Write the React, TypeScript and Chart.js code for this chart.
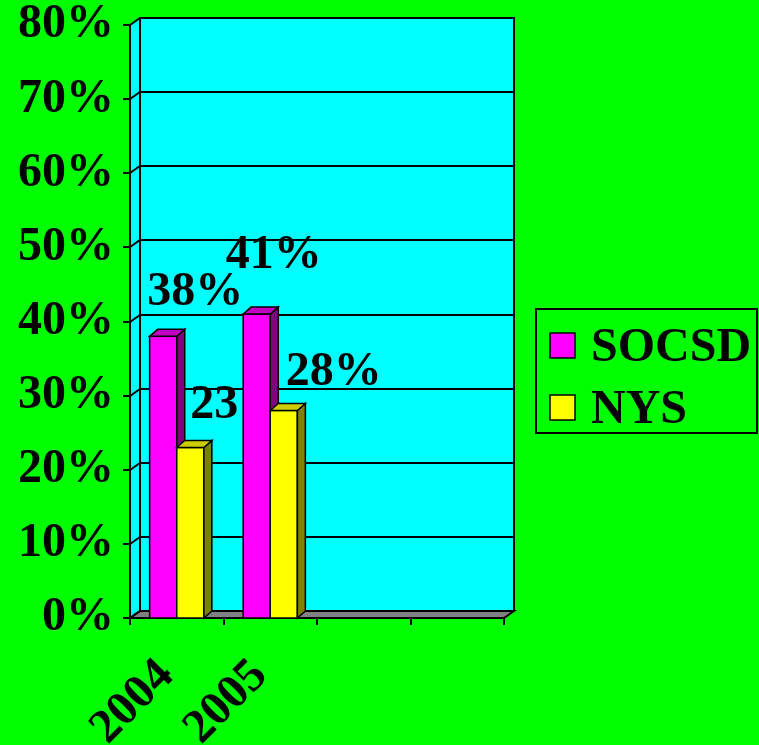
import React, { useEffect, useRef } from "react";
import { Chart, registerables } from "chart.js";

Chart.register(...registerables);

const categories = ["2004", "2005", "", ""];
const seriesNames = ["SOCSD", "NYS"];
const socsdValues = [0.38, 0.41, null, null];
const nysValues = [0.23, 0.28, null, null];
const yTickMax = 0.8;
const yTickStep = 0.1;

// style constants
const FONT = "'Liberation Serif', 'Times New Roman', serif";
const FONT_SIZE = 48;
const FRONT = ["#FF00FF", "#FFFF00"];
const SIDE = ["#800080", "#808000"];
const TOP = ["#C000C0", "#CCCC00"];
const WDX = 10;
const WDY = 7;
const BDX = 8;
const BDY = 7;
// label offsets (dx, dy) relative to bar center/top, per dataset per point
const labelOffsets = [
  [[32, -31], [17, -46]],
  [[48, -30], [50, -25]],
];

const threeD = {
  id: "threeD",
  beforeDatasetsDraw(chart: any) {
    const { ctx, chartArea } = chart;
    const { left, right, top, bottom } = chartArea;
    const y = chart.scales.y;
    ctx.save();
    ctx.lineWidth = 2;
    ctx.strokeStyle = "#000";
    ctx.lineJoin = "miter";
    // back wall
    ctx.fillStyle = "#00FFFF";
    ctx.fillRect(left + WDX, top - WDY, right - left, bottom - top);
    // left wall
    ctx.beginPath();
    ctx.moveTo(left, bottom);
    ctx.lineTo(left, top);
    ctx.lineTo(left + WDX, top - WDY);
    ctx.lineTo(left + WDX, bottom - WDY);
    ctx.closePath();
    ctx.fill();
    // floor
    ctx.fillStyle = "#808080";
    ctx.beginPath();
    ctx.moveTo(left, bottom);
    ctx.lineTo(right, bottom);
    ctx.lineTo(right + WDX, bottom - WDY);
    ctx.lineTo(left + WDX, bottom - WDY);
    ctx.closePath();
    ctx.fill();
    ctx.stroke();
    // gridlines
    for (let v = 0; v <= yTickMax + 1e-9; v += yTickStep) {
      const py = Math.round(y.getPixelForValue(v));
      ctx.beginPath();
      ctx.moveTo(left - 7, py);
      ctx.lineTo(left, py);
      ctx.lineTo(left + WDX, py - WDY);
      ctx.lineTo(right + WDX, py - WDY);
      ctx.stroke();
    }
    // wall outlines
    ctx.beginPath();
    ctx.moveTo(left + WDX, bottom - WDY);
    ctx.lineTo(left + WDX, top - WDY);
    ctx.lineTo(right + WDX, top - WDY);
    ctx.lineTo(right + WDX, bottom - WDY);
    ctx.stroke();
    ctx.beginPath();
    ctx.moveTo(left, top);
    ctx.lineTo(left, bottom);
    ctx.lineTo(right, bottom);
    ctx.stroke();
    // x ticks
    const n = categories.length;
    const w = (right - left) / n;
    for (let i = 0; i <= n; i++) {
      const px = Math.round(left + i * w);
      ctx.beginPath();
      ctx.moveTo(px, bottom);
      ctx.lineTo(px, bottom + 7);
      ctx.stroke();
    }
    ctx.restore();
  },
  afterDatasetsDraw(chart: any) {
    const { ctx } = chart;
    ctx.save();
    ctx.lineWidth = 1.5;
    ctx.strokeStyle = "#000";
    ctx.lineJoin = "miter";
    const nCat = categories.length;
    for (let i = 0; i < nCat; i++) {
      for (let d = 0; d < chart.data.datasets.length; d++) {
        const val = chart.data.datasets[d].data[i];
        if (val == null) continue;
        const bar = chart.getDatasetMeta(d).data[i];
        const x1 = bar.x - bar.width / 2;
        const x2 = bar.x + bar.width / 2;
        const yt = bar.y;
        const yb = bar.base;
        // front
        ctx.fillStyle = FRONT[d];
        ctx.fillRect(x1, yt, x2 - x1, yb - yt);
        ctx.strokeRect(x1, yt, x2 - x1, yb - yt);
        // side
        ctx.fillStyle = SIDE[d];
        ctx.beginPath();
        ctx.moveTo(x2, yt);
        ctx.lineTo(x2 + BDX, yt - BDY);
        ctx.lineTo(x2 + BDX, yb - BDY);
        ctx.lineTo(x2, yb);
        ctx.closePath();
        ctx.fill();
        ctx.stroke();
        // top
        ctx.fillStyle = TOP[d];
        ctx.beginPath();
        ctx.moveTo(x1, yt);
        ctx.lineTo(x1 + BDX, yt - BDY);
        ctx.lineTo(x2 + BDX, yt - BDY);
        ctx.lineTo(x2, yt);
        ctx.closePath();
        ctx.fill();
        ctx.stroke();
      }
      // labels for this category
      ctx.fillStyle = "#000";
      ctx.font = `bold ${FONT_SIZE}px ${FONT}`;
      ctx.textAlign = "center";
      ctx.textBaseline = "alphabetic";
      for (let d = 0; d < chart.data.datasets.length; d++) {
        const val = chart.data.datasets[d].data[i];
        if (val == null) continue;
        const bar = chart.getDatasetMeta(d).data[i];
        const off = (labelOffsets[d] && labelOffsets[d][i]) || [30, -30];
        ctx.fillText(Math.round(val * 100) + "%", bar.x + off[0], bar.y + off[1]);
      }
    }
    ctx.restore();
  },
  afterDraw(chart: any) {
    const { ctx } = chart;
    ctx.save();
    // legend box
    const lx = 536, ly = 309, lw = 221, lh = 124;
    ctx.lineWidth = 2;
    ctx.strokeStyle = "#000";
    ctx.strokeRect(lx, ly, lw, lh);
    ctx.font = `bold ${FONT_SIZE}px ${FONT}`;
    ctx.textAlign = "left";
    ctx.textBaseline = "alphabetic";
    const rows = [345, 407];
    chart.data.datasets.forEach((ds: any, d: number) => {
      const cy = rows[d];
      ctx.fillStyle = FRONT[d];
      ctx.fillRect(550, cy - 12, 25, 25);
      ctx.lineWidth = 1.5;
      ctx.strokeRect(550, cy - 12, 25, 25);
      ctx.fillStyle = "#000";
      ctx.fillText(ds.label, 591, cy + 16);
    });
    ctx.restore();
  },
};

export default function App() {
  const ref = useRef<HTMLCanvasElement>(null);
  useEffect(() => {
    document.body.style.margin = "0";
    const chart = new Chart(ref.current!, {
      type: "bar",
      data: {
        labels: categories,
        datasets: [
          { label: seriesNames[0], data: socsdValues, backgroundColor: FRONT[0], borderColor: "#000", borderWidth: 1 },
          { label: seriesNames[1], data: nysValues, backgroundColor: FRONT[1], borderColor: "#000", borderWidth: 1 },
        ],
      },
      options: {
        animation: false,
        responsive: false,
        maintainAspectRatio: false,
        layout: { padding: { top: 25, right: 255, left: 0, bottom: 0 } },
        datasets: { bar: { categoryPercentage: 0.58, barPercentage: 1.0 } },
        plugins: { legend: { display: false }, tooltip: { enabled: false } },
        scales: {
          x: {
            grid: { display: false, drawTicks: false },
            border: { display: false },
            ticks: {
              color: "#000",
              font: { family: FONT, size: FONT_SIZE, weight: "bold" },
              minRotation: 45,
              maxRotation: 45,
              padding: 30,
              labelOffset: -10,
              autoSkip: false,
            },
            afterFit: (s: any) => { s.height = 127; s.paddingLeft = 0; s.paddingRight = 0; },
          },
          y: {
            min: 0,
            max: yTickMax,
            grid: { display: false, drawTicks: false },
            border: { display: false },
            ticks: {
              stepSize: yTickStep,
              color: "#000",
              padding: 16,
              font: { family: FONT, size: FONT_SIZE, weight: "bold" },
              callback: (v: any) => Math.round(Number(v) * 100) + "%",
            },
            afterFit: (s: any) => { s.width = 130; s.paddingTop = 0; s.paddingBottom = 0; },
          },
        },
      },
      plugins: [threeD],
    });
    return () => chart.destroy();
  }, []);
  return (
    <div style={{ width: 759, height: 745, background: "#00FF00" }}>
      <canvas ref={ref} width={759} height={745} style={{ display: "block" }} />
    </div>
  );
}
